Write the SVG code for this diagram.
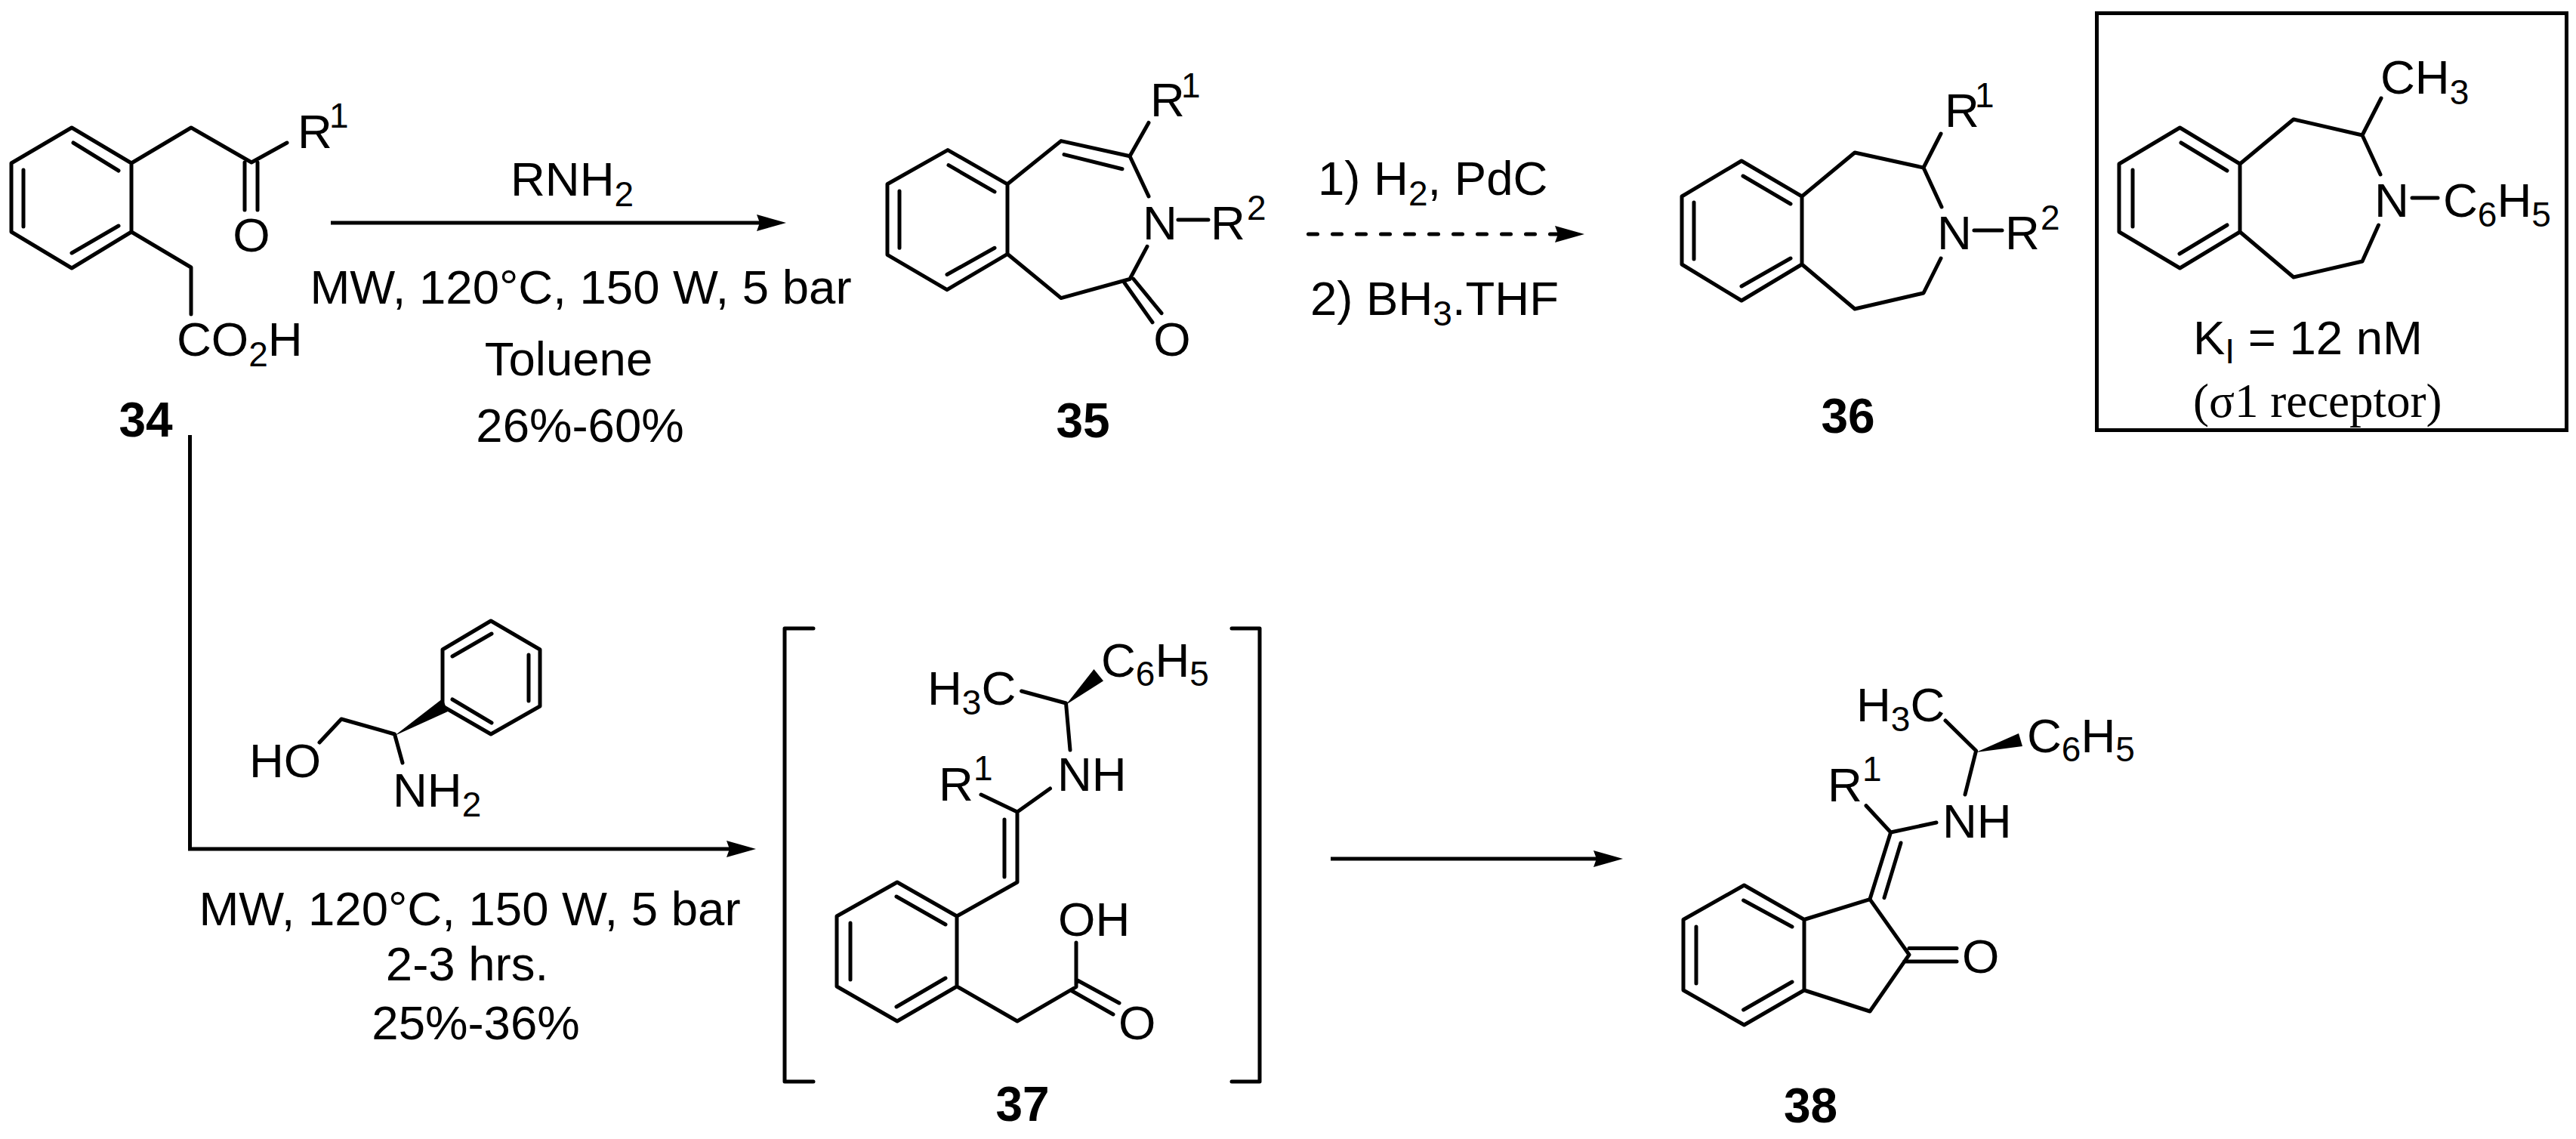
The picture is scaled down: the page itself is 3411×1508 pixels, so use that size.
<svg xmlns="http://www.w3.org/2000/svg" width="3411" height="1508" viewBox="0 0 3411 1508">
<style>
text{font-family:"Liberation Sans",Arial,sans-serif;font-size:63.5px;fill:#000}
.s{font-size:46px}
.b{font-weight:bold;font-size:64px}
.m{text-anchor:middle}
.r{font-family:"Liberation Serif","Times New Roman",serif;font-size:63px}
.bond{fill:none;stroke:#000;stroke-width:5;stroke-linejoin:round;stroke-linecap:round}
.arr{fill:none;stroke:#000;stroke-width:5}
.w{fill:#000;stroke:none}
</style>
<defs>
<marker id="head" markerUnits="userSpaceOnUse" markerWidth="42" markerHeight="26" refX="6" refY="13" orient="auto">
<path d="M0 2L39 13L0 24L4 13Z" fill="#000"/>
</marker>
</defs>
<rect width="3411" height="1508" fill="#fff"/>

<g id="connectors">
<path class="arr" d="M438 295H1008" marker-end="url(#head)"/>
<path class="arr" d="M1732.5 310H2065" stroke-dasharray="12 20" stroke-linecap="round" marker-end="url(#head)"/>
<path class="arr" d="M251.500 576V1124H968" marker-end="url(#head)"/>
<path class="arr" d="M1762 1137H2116" marker-end="url(#head)"/>
</g>

<g id="compound-34">
<path class="bond" d="M95 169L174 216V307L95 355L15 307V216ZM97 189L157 226M31 225V300M95 335L157 299M174 216L253 169L333 215L380 189M324 215V278M341 215V278M174 307L253 354V416"/>
<text x="394" y="196">R</text><text class="s" x="436" y="169">1</text>
<text x="333" y="333" class="m">O</text>
<text x="234" y="471">CO<tspan class="s" dy="14">2</tspan><tspan dy="-14">H</tspan></text>
<text class="b m" x="193" y="578">34</text>
</g>

<g id="conditions-1">
<text x="676" y="259">RNH<tspan class="s" dy="14">2</tspan></text>
<text class="m" x="769" y="402">MW, 120°C, 150 W, 5 bar</text>
<text class="m" x="753" y="497">Toluene</text>
<text class="m" x="768" y="585">26%-60%</text>
</g>

<g id="compound-35">
<path class="bond" d="M1255 198.600L1334 243.800V336.300L1254 383.600L1175 337.300V243.800ZM1256 218.700L1317 253.900M1191 252.900V328.300M1254 363.500L1317 328.300M1334 243.800L1405 186.600L1496 206.700L1521 259.900M1409 204.600L1486 223.700M1496 206.700L1521 162.400M1560 291H1600M1519 326.300L1496 369.500L1405 394.600L1334 336.300M1489 374.500L1526 426.800M1501 369.500L1538 414.700"/>
<text x="1523" y="154.400">R</text><text class="s" x="1564" y="129.300">1</text>
<text x="1513" y="317">N</text>
<text x="1603" y="317">R</text><text class="s" x="1651" y="291">2</text>
<text class="m" x="1552" y="471">O</text>
<text class="b m" x="1434" y="578.600">35</text>
</g>

<g id="conditions-2">
<text x="1745" y="258">1) H<tspan class="s" dy="14">2</tspan><tspan dy="-14">, PdC</tspan></text>
<text x="1735" y="416.700">2) BH<tspan class="s" dy="14">3</tspan><tspan dy="-14">.THF</tspan></text>
</g>

<g id="compound-36">
<path class="bond" d="M2306 213L2386 260V350L2306 398L2227 350V260ZM2308 233L2371 270M2243 268V343M2306 379L2371 342M2386 260L2456 202L2547 222L2571 274M2547 222L2570 177M2614 305H2651M2570 342L2547 388L2456 409L2386 350"/>
<text x="2575" y="168">R</text><text class="s" x="2615" y="142">1</text>
<text x="2565" y="330">N</text>
<text x="2655" y="330">R</text><text class="s" x="2702" y="304">2</text>
<text class="b m" x="2447" y="573">36</text>
</g>

<g id="inset-box">
<rect x="2776.500" y="17.500" width="622" height="552" fill="none" stroke="#000" stroke-width="5"/>
<path class="bond" d="M2886.500 169L2966 217V307L2886.500 355L2806 307V217ZM2888 189L2949 226M2824 225V300M2886 336L2949 298M2966 217L3037 158L3128 179L3152 231M3128 179L3153 130M3194 262H3228M3149.500 298L3128 346L3037 367L2966 307"/>
<text x="3152" y="124">CH<tspan class="s" dy="14">3</tspan></text>
<text x="3144" y="287">N</text>
<text x="3235" y="287">C<tspan class="s" dy="13">6</tspan><tspan dy="-13">H</tspan><tspan class="s" dy="13">5</tspan></text>
<text x="2904" y="469">K<tspan class="s" dy="12">I</tspan><tspan dy="-12"> = 12 nM</tspan></text>
<text class="r" x="2904" y="552">(σ1 receptor)</text>
</g>

<g id="reagent">
<path class="bond" d="M650 822L715 860V935L650 972L586 935V860ZM599 869L651 839M700 867V928M599 926L651 957M423 983L452 952L522.500 972L533 1010"/>
<path class="w" d="M522.500 974L586 925L593 942Z"/>
<text x="330" y="1029">HO</text>
<text x="520" y="1068">NH<tspan class="s" dy="13">2</tspan></text>
</g>

<g id="conditions-3">
<text class="m" x="622" y="1225">MW, 120°C, 150 W, 5 bar</text>
<text class="m" x="618.500" y="1297.500">2-3 hrs.</text>
<text class="m" x="630" y="1376">25%-36%</text>
</g>

<g id="compound-37">
<path class="bond" d="M1077 832H1039V1432H1077M1631 832H1668V1432H1631"/>
<path class="bond" d="M1188 1168L1267 1213V1306L1188 1352L1108 1306V1213ZM1187 1187L1252 1224M1126 1222V1297M1187 1333L1252 1295M1267 1213L1347 1168V1075M1330 1161V1085M1299 1052L1347 1075L1390.500 1044M1417 993L1411.500 931L1352.600 915M1425 1248V1306.600L1347 1352L1267 1306M1425 1297L1482 1328M1419.500 1312L1474 1343"/>
<path class="w" d="M1411.500 933L1448.500 886L1461 901.600Z"/>
<text x="1243" y="1060">R</text><text class="s" x="1289" y="1032.500">1</text>
<text x="1400" y="1047">NH</text>
<text x="1228" y="933">H<tspan class="s" dy="13">3</tspan><tspan dy="-13">C</tspan></text>
<text x="1458" y="896">C<tspan class="s" dy="12">6</tspan><tspan dy="-12">H</tspan><tspan class="s" dy="12">5</tspan></text>
<text x="1401" y="1239">OH</text>
<text x="1481" y="1376">O</text>
<text class="b m" x="1354" y="1484">37</text>
</g>

<g id="compound-38">
<path class="bond" d="M2309.500 1172L2389 1217.500V1311L2309.500 1357L2229 1311V1217.500ZM2308.600 1192L2373 1227M2246 1227V1302M2308.600 1337L2373 1300M2389 1217.500L2476 1190.600L2528 1264L2476 1339L2389 1311M2528 1255.500H2591M2521.500 1273H2591M2476 1190.600L2503.600 1102M2495 1188.600L2517 1116M2471 1066.700L2503.600 1102L2564 1089M2602 1052L2616.600 994L2576 954"/>
<path class="w" d="M2616.600 996L2673 971L2678 988Z"/>
<text x="2420" y="1060.500">R</text><text class="s" x="2466" y="1034">1</text>
<text x="2572" y="1109">NH</text>
<text x="2458" y="955">H<tspan class="s" dy="13">3</tspan><tspan dy="-13">C</tspan></text>
<text x="2684" y="995.600">C<tspan class="s" dy="12">6</tspan><tspan dy="-12">H</tspan><tspan class="s" dy="12">5</tspan></text>
<text x="2598" y="1288">O</text>
<text class="b m" x="2397.500" y="1486">38</text>
</g>
</svg>
